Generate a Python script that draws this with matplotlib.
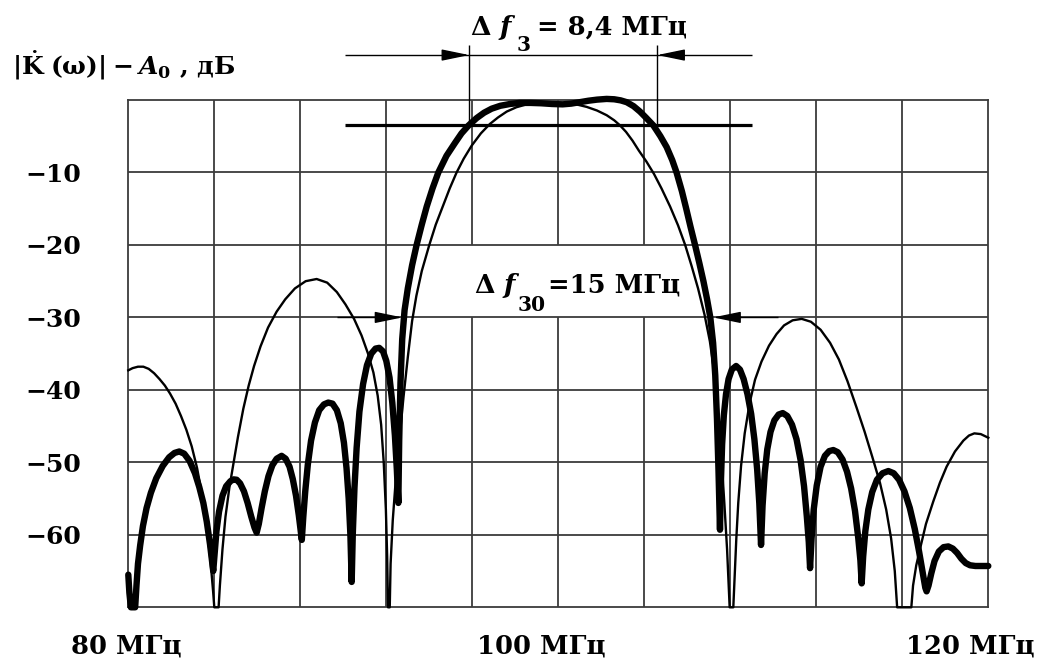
import matplotlib.pyplot as plt

plt.rcParams['font.family'] = ['DejaVu Serif']
plt.rcParams['font.weight'] = 'bold'
plt.rcParams['mathtext.fontset'] = 'custom'
plt.rcParams['mathtext.rm'] = 'DejaVu Serif:bold'
plt.rcParams['mathtext.it'] = 'DejaVu Serif:italic:bold'
plt.rcParams['mathtext.bf'] = 'DejaVu Serif:bold'

# frequency axis (MHz) and attenuation (dB)
x_ticks = [80, 100, 120]
x_tick_labels = ['80 МГц', '100 МГц', '120 МГц']
y_ticks = [-10, -20, -30, -40, -50, -60]
y_tick_labels = ['\u221210', '\u221220', '\u221230', '\u221240', '\u221250', '\u221260']
grid_x = [84, 88, 92, 96, 100, 104, 108, 112, 116]

# thick curve (sharper filter)
thick_f = [80.00, 80.05, 80.12, 80.32, 80.38, 80.45, 80.55, 80.68, 80.85, 81.05,
           81.30, 81.60, 81.90, 82.15, 82.37, 82.60, 82.85, 83.10, 83.30, 83.49,
           83.65, 83.80, 83.95,
           84.02, 84.10, 84.22, 84.38, 84.55, 84.75, 84.90, 85.04, 85.20, 85.38,
           85.55, 85.72, 85.87, 85.97,
           86.07, 86.20, 86.35, 86.52, 86.70, 86.90, 87.13, 87.32, 87.50, 87.65,
           87.80, 87.93, 88.07,
           88.14, 88.23, 88.35, 88.50, 88.68, 88.88, 89.10, 89.30, 89.50, 89.70,
           89.88, 90.03, 90.15, 90.25, 90.33, 90.39,
           90.44, 90.52, 90.62, 90.75, 90.92, 91.10, 91.30, 91.50, 91.67, 91.85,
           92.00, 92.15, 92.28, 92.40, 92.49, 92.56,
           92.60, 92.66, 92.74, 92.85, 93.00, 93.20, 93.41, 93.65, 93.88, 94.15,
           94.42, 94.80, 95.20, 95.50, 95.83, 96.20, 96.55, 96.90, 97.30, 97.75,
           98.20, 98.70, 99.20, 99.70, 100.20, 100.60, 101.00, 101.40, 101.80, 102.25,
           102.60, 102.90, 103.18, 103.50, 103.80, 104.10, 104.42, 104.75, 105.04, 105.30,
           105.50, 105.75, 105.95, 106.15, 106.36, 106.56, 106.75, 106.92, 107.07, 107.20,
           107.30, 107.38, 107.45, 107.52,
           107.56, 107.62, 107.70, 107.80, 107.92, 108.07, 108.27, 108.45, 108.62, 108.80,
           108.97, 109.12, 109.25, 109.35, 109.43,
           109.50, 109.60, 109.72, 109.87, 110.05, 110.25, 110.44, 110.65, 110.87, 111.08,
           111.27, 111.43, 111.56, 111.65, 111.71,
           111.78, 111.88, 112.02, 112.20, 112.40, 112.60, 112.79, 113.00, 113.22, 113.43,
           113.62, 113.80, 113.95, 114.05, 114.11,
           114.18, 114.28, 114.42, 114.60, 114.82, 115.08, 115.35, 115.60, 115.85, 116.10,
           116.35, 116.58, 116.78, 116.95, 117.07, 117.13,
           117.22, 117.35, 117.50, 117.70, 117.92, 118.14, 118.35, 118.55, 118.75, 118.95,
           119.15, 119.40, 120.00]
thick_db = [-65.5, -68.0, -70.0, -70.0, -67.0, -64.0, -61.5, -58.8, -56.3, -54.2,
            -52.2, -50.5, -49.3, -48.7, -48.5, -48.8, -49.8, -51.5, -53.4, -55.6,
            -58.2, -61.3, -65.0,
            -62.5, -59.5, -56.8, -54.6, -53.3, -52.6, -52.35, -52.4, -52.9, -54.0,
            -55.6, -57.5, -59.0, -59.7,
            -58.5, -56.3, -54.0, -51.9, -50.4, -49.5, -49.1, -49.5, -50.6, -52.3,
            -54.6, -57.3, -60.7,
            -57.5, -54.0, -50.3, -47.0, -44.5, -42.8, -42.0, -41.75, -41.9, -42.8,
            -44.6, -47.3, -50.8, -55.0, -60.0, -66.5,
            -60.0, -53.5, -48.0, -43.0, -39.2, -36.6, -35.0, -34.3, -34.2, -34.7,
            -36.0, -38.3, -41.8, -46.3, -51.0, -55.6,
            -47.0, -39.0, -33.0, -29.0, -26.0, -22.8, -20.0, -17.2, -14.7, -12.2,
            -10.0, -7.7, -5.9, -4.6, -3.5, -2.5, -1.75, -1.2, -0.8, -0.55,
            -0.4, -0.4, -0.45, -0.55, -0.6, -0.5, -0.3, -0.1, 0.05, 0.15,
            0.1, -0.05, -0.3, -0.85, -1.6, -2.5, -3.5, -5.0, -6.5, -8.3,
            -10.0, -12.6, -15.0, -17.5, -20.0, -22.5, -25.0, -27.5, -30.0, -33.5,
            -38.0, -44.0, -51.0, -59.3,
            -53.0, -47.5, -43.5, -40.6, -38.5, -37.2, -36.7, -37.2, -38.5, -40.6,
            -43.3, -46.8, -51.0, -55.7, -61.4,
            -56.0, -51.5, -48.2, -45.8, -44.2, -43.4, -43.2, -43.6, -44.8, -46.8,
            -49.7, -53.3, -57.5, -61.0, -64.6,
            -60.5, -56.5, -53.2, -50.6, -49.1, -48.45, -48.3, -48.6, -49.6, -51.3,
            -53.6, -56.7, -60.4, -63.5, -66.7,
            -63.0, -59.5, -56.5, -54.1, -52.4, -51.5, -51.2, -51.5, -52.4, -54.0,
            -56.3, -59.2, -62.3, -65.2, -67.3, -67.8,
            -67.0, -65.3, -63.6, -62.3, -61.7, -61.6, -61.9, -62.5, -63.3, -63.9,
            -64.2, -64.3, -64.3]

# thin curve (wider filter)
thin_f = [80.00, 80.20, 80.45, 80.70, 80.95, 81.20, 81.45, 81.70, 81.94, 82.20,
          82.45, 82.70, 82.95, 83.20, 83.45, 83.65, 83.82, 83.95, 84.00, 84.20,
          84.26, 84.38, 84.52, 84.70, 84.90, 85.10, 85.35, 85.60, 85.85, 86.15,
          86.50, 86.90, 87.30, 87.75, 88.25, 88.76, 89.25, 89.70, 90.10, 90.50,
          90.85, 91.15, 91.40, 91.60, 91.76, 91.88, 91.98, 92.04, 92.08, 92.16,
          92.20, 92.30, 92.45, 92.62, 92.80, 93.00, 93.20, 93.40, 93.65, 94.00,
          94.30, 94.65, 94.95, 95.27, 95.60, 95.97, 96.40, 96.82, 97.20, 97.60,
          98.05, 98.53, 99.00, 99.50, 100.00, 100.45, 100.90, 101.32, 101.80, 102.25,
          102.60, 102.87, 103.15, 103.45, 103.75, 104.10, 104.45, 104.80, 105.20, 105.57,
          105.90, 106.20, 106.50, 106.80, 107.05, 107.25, 107.42, 107.57, 107.72, 107.85,
          107.97, 108.14, 108.20, 108.28, 108.37, 108.50, 108.67, 108.90, 109.15, 109.45,
          109.80, 110.15, 110.50, 110.90, 111.32, 111.75, 112.20, 112.64, 113.05, 113.45,
          113.88, 114.25, 114.60, 114.96, 115.25, 115.48, 115.65, 115.76, 116.42, 116.50,
          116.65, 116.82, 117.10, 117.44, 117.75, 118.06, 118.45, 118.84, 119.10, 119.35,
          119.65, 120.00]
thin_db = [-37.3, -37.0, -36.8, -36.8, -37.1, -37.7, -38.5, -39.4, -40.5, -41.9,
           -43.6, -45.5, -47.8, -50.8, -54.8, -58.8, -63.5, -68.0, -70.0, -70.0,
           -67.0, -62.0, -57.5, -53.5, -50.0, -46.5, -42.6, -39.4, -36.7, -34.0,
           -31.4, -29.2, -27.5, -26.0, -25.0, -24.7, -25.2, -26.5, -28.2, -30.2,
           -32.5, -35.0, -37.6, -40.8, -44.8, -50.0, -56.5, -63.0, -70.0, -70.0,
           -64.0, -58.0, -52.0, -46.5, -41.0, -35.5, -30.5, -27.0, -23.6, -20.0,
           -17.2, -14.5, -12.2, -10.0, -8.1, -6.3, -4.6, -3.3, -2.4, -1.6,
           -1.0, -0.6, -0.4, -0.3, -0.35, -0.45, -0.65, -0.95, -1.45, -2.1,
           -2.8, -3.5, -4.4, -5.6, -7.0, -8.5, -10.2, -12.2, -14.7, -17.3,
           -20.0, -22.9, -26.0, -29.6, -33.3, -37.5, -42.5, -48.5, -55.5, -62.0,
           -70.0, -70.0, -66.0, -60.5, -55.6, -50.5, -46.0, -41.8, -38.6, -36.1,
           -33.9, -32.3, -31.1, -30.4, -30.2, -30.6, -31.7, -33.5, -35.8, -38.8,
           -42.5, -45.8, -49.2, -52.8, -56.5, -60.5, -65.0, -70.0, -70.0, -67.0,
           -64.2, -62.0, -58.5, -55.4, -52.8, -50.6, -48.5, -47.0, -46.3, -46.0,
           -46.1, -46.6]

# bandwidth markers
band3_edges = [95.86, 104.6]
band3_level = -3.5
band3_span = [90.08, 109.0]
band30_edges = [92.75, 107.2]
band30_level = -30
band30_span = [89.7, 110.23]

W, H = 1051, 660
GRID = '#3c3c3c'


def fx(px):
    return px / W


def fy(py):
    return 1 - py / H


fig = plt.figure(figsize=(W / 100, H / 100), dpi=100)
ax = fig.add_axes([fx(128.3), fy(607.3), 860 / W, 507.3 / H])
ax.set_xlim(80, 120)
ax.set_ylim(-70, 0)

for s in ax.spines.values():
    s.set_color(GRID)
    s.set_linewidth(1.3)

# grid, with a gap behind the 30 dB label
for gx in grid_x:
    if 94 < gx < 106:
        ax.vlines(gx, -70, -30, color=GRID, lw=1.3, zorder=1)
        ax.vlines(gx, -20, 0, color=GRID, lw=1.3, zorder=1)
    else:
        ax.vlines(gx, -70, 0, color=GRID, lw=1.3, zorder=1)
ax.hlines(y_ticks, 80, 120, color=GRID, lw=1.3, zorder=1)

ax.plot(thin_f, thin_db, color='black', lw=1.7, clip_on=False, zorder=3,
        solid_joinstyle='round')
ax.plot(thick_f, thick_db, color='black', lw=4.6, clip_on=False, zorder=4,
        solid_joinstyle='round', solid_capstyle='round')

# -3 dB level and markers
ax.hlines(band3_level, band3_span[0], band3_span[1], color='black', lw=2.3,
          clip_on=False, zorder=5)
top_y = 6.2
for e in band3_edges:
    ax.vlines(e, band3_level, 7.6, color='black', lw=1.0, clip_on=False, zorder=5)
ax.hlines(top_y, band3_span[0], band3_span[1], color='black', lw=1.0, clip_on=False)
arrow = dict(arrowstyle='-|>,head_length=1.7,head_width=0.35', color='black',
             lw=1.0, shrinkA=0, shrinkB=0)
ax.annotate('', xy=(band3_edges[0], top_y), xytext=(band3_edges[0] - 1.1, top_y),
            arrowprops=arrow, annotation_clip=False)
ax.annotate('', xy=(band3_edges[1], top_y), xytext=(band3_edges[1] + 1.1, top_y),
            arrowprops=arrow, annotation_clip=False)

# -30 dB arrows
ax.hlines(band30_level, band30_span[0], band30_edges[0] - 0.5, color='black', lw=1.0)
ax.hlines(band30_level, band30_edges[1] + 0.5, band30_span[1], color='black', lw=1.0)
ax.annotate('', xy=(band30_edges[0], band30_level), xytext=(band30_edges[0] - 1.25, band30_level),
            arrowprops=arrow, annotation_clip=False)
ax.annotate('', xy=(band30_edges[1], band30_level), xytext=(band30_edges[1] + 1.3, band30_level),
            arrowprops=arrow, annotation_clip=False)

# ticks
ax.set_xticks([])
ax.set_yticks(y_ticks, y_tick_labels, fontsize=18)
ax.tick_params(axis='y', length=0, pad=34)
for val, lab, dx in zip(x_ticks, x_tick_labels, [-2, -17, -18]):
    ax.annotate(lab, xy=(val, 0), xycoords=('data', 'axes fraction'),
                xytext=(dx, -46), textcoords='offset pixels',
                ha='center', va='baseline', fontsize=18.5, annotation_clip=False)

# labels
fig.text(fx(12), fy(75), r'$|\dot{\mathrm{K}}\;(\mathrm{ω})|-A_0$ , дБ', fontsize=18,
         va='baseline', ha='left')
fig.text(fx(470), fy(35), r'$\Delta\ f$', fontsize=19, va='baseline')
fig.text(fx(517), fy(51), '3', fontsize=14.5, va='baseline')
fig.text(fx(537), fy(35), '= 8,4 МГц', fontsize=18.5, va='baseline')
fig.text(fx(474), fy(293), r'$\Delta\ f$', fontsize=19, va='baseline')
fig.text(fx(518), fy(311), '30', fontsize=14.5, va='baseline')
fig.text(fx(548), fy(293), '=15 МГц', fontsize=18.5, va='baseline')

fig.savefig('out.png', dpi=100)
